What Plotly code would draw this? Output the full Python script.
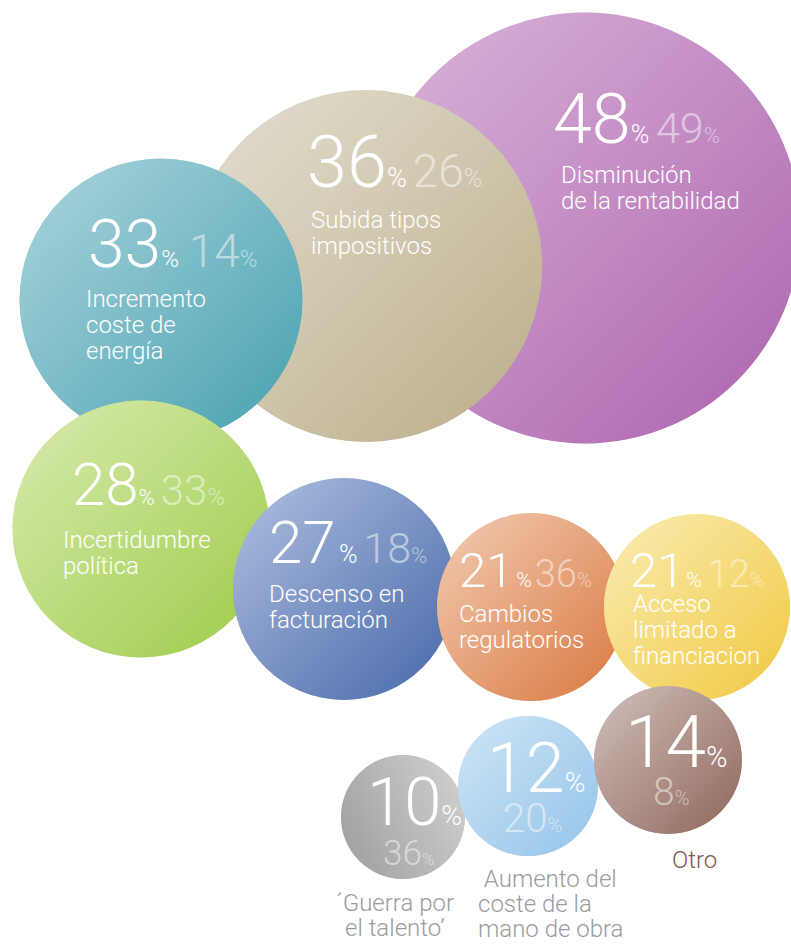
import plotly.graph_objects as go

# ---------------- data ----------------
categories = [
    "Disminución<br>de la rentabilidad",
    "Subida tipos<br>impositivos",
    "Incremento<br>coste de<br>energía",
    "Incertidumbre<br>política",
    "Descenso en<br>facturación",
    "Cambios<br>regulatorios",
    "Acceso<br>limitado a<br>financiacion",
    "´Guerra por<br>el talento’",
    "\u00a0Aumento del<br>coste de la<br>mano de obra",
    "Otro",
]
pct_current = [48, 36, 33, 28, 27, 21, 21, 10, 12, 14]
pct_previous = [49, 26, 14, 33, 18, 36, 12, 36, 20, 8]

# ---------------- layout / style ----------------
W, H = 791, 944
cx = [585, 366, 161, 141, 344, 531, 697, 403, 528, 668]
cy = [228, 266, 300, 529, 589, 607, 607, 817, 786, 760]
diam = [431, 352, 283, 257, 222, 188, 186, 124, 140, 148]
# (vertical top, vertical bottom, horizontal left, horizontal right)
grads = [
    ("#dab6da", "#ac62ad", "#dab6da", "#ac62ad"),
    ("#e3e0d2", "#bcac88", "#e3e0d2", "#bcac88"),
    ("#acd5dc", "#46a0b0", "#acd5dc", "#46a0b0"),
    ("#d9ebb0", "#9dcb48", "#d9ebb0", "#9dcb48"),
    ("#b0c0e0", "#4667a9", "#b0c0e0", "#4667a9"),
    ("#f2ccb4", "#d9783f", "#f2ccb4", "#d9783f"),
    ("#faedb5", "#f0c840", "#faedb5", "#f0c840"),
    ("#cacaca", "#a6a6a6", "#929292", "#dcdcdc"),
    ("#cfe5f4", "#93c4ea", "#cfe5f4", "#93c4ea"),
    ("#d0c0bb", "#8f665b", "#d0c0bb", "#8f665b"),
]
# number block: left x, baseline, big size, big % size, small size, small % size
num_x = [553, 307, 88, 72, 269, 459, 630, 367, 487, 625]
num_base = [143, 187, 267, 505, 563, 587, 587, 825, 792, 767]
F1 = [70, 72, 66, 60, 60, 49, 49, 67, 70, 73]
P1 = [25, 27, 24, 22, 25, 21, 21, 28, 28, 29]
F2 = [43, 46, 46, 42, 43, 38, 38, 35, 40, 39]
P2 = [22, 25, 24, 24, 22, 20, 20, 17, 20, 20]
gap1 = [0, 0, 0, 0, 14, 12, 8, 0, 0, 0]      # font size of the space before "%"
gap2 = [28, 24, 40, 24, 24, 12, 24, 0, 0, 0]  # font size of the space before 2nd number
stacked = [False] * 7 + [True] * 3
num2_x = [None] * 7 + [383, 503, 653]
num2_base = [None] * 7 + [865, 832, 805]
# labels
lab_x = [561, 311, 86, 63, 269, 459, 633, 395, 478, 672]
lab_base = [183, 228, 307, 548, 602, 622, 612, 911, 887, 868]
lab_step = [26, 26, 26, 26, 26, 26, 26, 25.5, 25, 26]
lab_anchor = ["left"] * 7 + ["center", "left", "left"]
lab_color = ["white"] * 7 + ["#9b9b9b", "#9b9b9b", "#7b5a50"]
LAB_SIZE = 24
FONT = "Roboto"
ASC = 0.928
FAINT = "rgba(255,255,255,0.5)"

fig = go.Figure()
for i in range(len(categories)):
    vt, vb, hl, hr = grads[i]
    fig.add_trace(go.Scatter(
        x=[cx[i]], y=[cy[i]], mode="markers", hoverinfo="skip",
        marker=dict(size=diam[i], color=vt, line=dict(width=0),
                    gradient=dict(type="vertical", color=vb))))
    fig.add_trace(go.Scatter(
        x=[cx[i]], y=[cy[i]], mode="markers", hoverinfo="skip",
        marker=dict(size=diam[i], color=hl, opacity=0.5, line=dict(width=0),
                    gradient=dict(type="horizontal", color=hr))))

ann = []


def add_text(x, base, text, fmax, color="white", anchor="left"):
    ann.append(dict(
        x=x - (2 if anchor == "left" else 0), y=base - 2 - ASC * fmax,
        xref="x", yref="y", xanchor=anchor, yanchor="top",
        text=text, showarrow=False, align=anchor,
        font=dict(family=FONT, size=fmax, color=color, weight=300)))


def space(sz, faint=False):
    if not sz:
        return ""
    col = f";color:{FAINT}" if faint else ""
    return f"<span style='font-size:{sz}px{col}'> </span>"


for i in range(len(categories)):
    big = (f"<span style='font-size:{F1[i]}px'>{pct_current[i]}</span>"
           + space(gap1[i]) +
           f"<span style='font-size:{P1[i]}px'>%</span>")
    small_num = (f"<span style='font-size:{F2[i]}px;color:{FAINT}'>{pct_previous[i]}</span>"
                 f"<span style='font-size:{P2[i]}px;color:{FAINT}'>%</span>")
    if not stacked[i]:
        add_text(num_x[i], num_base[i], big + space(gap2[i], True) + small_num, F1[i])
    else:
        add_text(num_x[i], num_base[i], big, F1[i])
        add_text(num2_x[i], num2_base[i], small_num, F2[i])
    for k, line in enumerate(categories[i].split("<br>")):
        add_text(lab_x[i], lab_base[i] + k * lab_step[i], line, LAB_SIZE,
                 color=lab_color[i], anchor=lab_anchor[i])

fig.update_layout(
    width=W, height=H, margin=dict(l=0, r=0, t=0, b=0),
    paper_bgcolor="white", plot_bgcolor="white", showlegend=False,
    xaxis=dict(range=[0, W], visible=False, fixedrange=True),
    yaxis=dict(range=[H, 0], visible=False, fixedrange=True),
    annotations=ann,
)
fig.write_html("out.html")
